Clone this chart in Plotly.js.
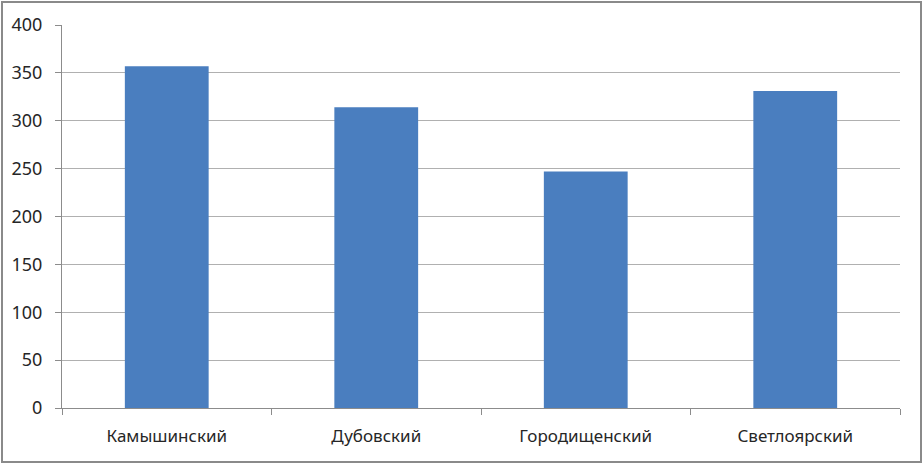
<!DOCTYPE html>
<html>
<head>
<meta charset="utf-8">
<script src="https://cdn.plot.ly/plotly-3.0.1.min.js"></script>
<style>
html,body{margin:0;padding:0;background:#fff;}
#wrap{position:relative;width:922px;height:463px;}
#chart{position:absolute;left:0;top:0;width:922px;height:463px;}
#frame{position:absolute;left:1px;top:1px;width:917px;height:458px;border:2px solid #8a8a8a;pointer-events:none;}
</style>
</head>
<body>
<div id="wrap"><div id="chart"></div><div id="frame"></div></div>
<script>
const categories = ["Камышинский", "Дубовский", "Городищенский", "Светлоярский"];
const values = [357, 314, 247, 331];
const yTicks = [0, 50, 100, 150, 200, 250, 300, 350, 400];

const trace = {
  type: "bar",
  x: categories,
  y: values,
  marker: {color: "#4a7ebf"},
  hoverinfo: "x+y"
};

const layout = {
  width: 922,
  height: 463,
  margin: {l: 62, r: 22, t: 25, b: 55},
  paper_bgcolor: "#ffffff",
  plot_bgcolor: "#ffffff",
  bargap: 0.6,
  showlegend: false,
  font: {family: "Noto Sans, sans-serif", size: 17, color: "#262626"},
  xaxis: {
    showline: true,
    linecolor: "#8c8c8c",
    linewidth: 1,
    ticks: "outside",
    tickson: "boundaries",
    ticklen: 6,
    tickcolor: "#8c8c8c",
    showgrid: false,
    tickfont: {size: 17, color: "#262626"},
    ticklabelstandoff: 13
  },
  yaxis: {
    range: [0, 400],
    tickvals: yTicks,
    showline: true,
    linecolor: "#8c8c8c",
    linewidth: 1,
    ticks: "outside",
    ticklen: 6,
    tickcolor: "#8c8c8c",
    showgrid: true,
    gridcolor: "#b0b0b0",
    gridwidth: 1,
    zeroline: false,
    tickfont: {size: 18, color: "#262626"},
    ticklabelstandoff: 9
  }
};

Plotly.newPlot("chart", [trace], layout, {displayModeBar: false, staticPlot: true});
</script>
</body>
</html>
